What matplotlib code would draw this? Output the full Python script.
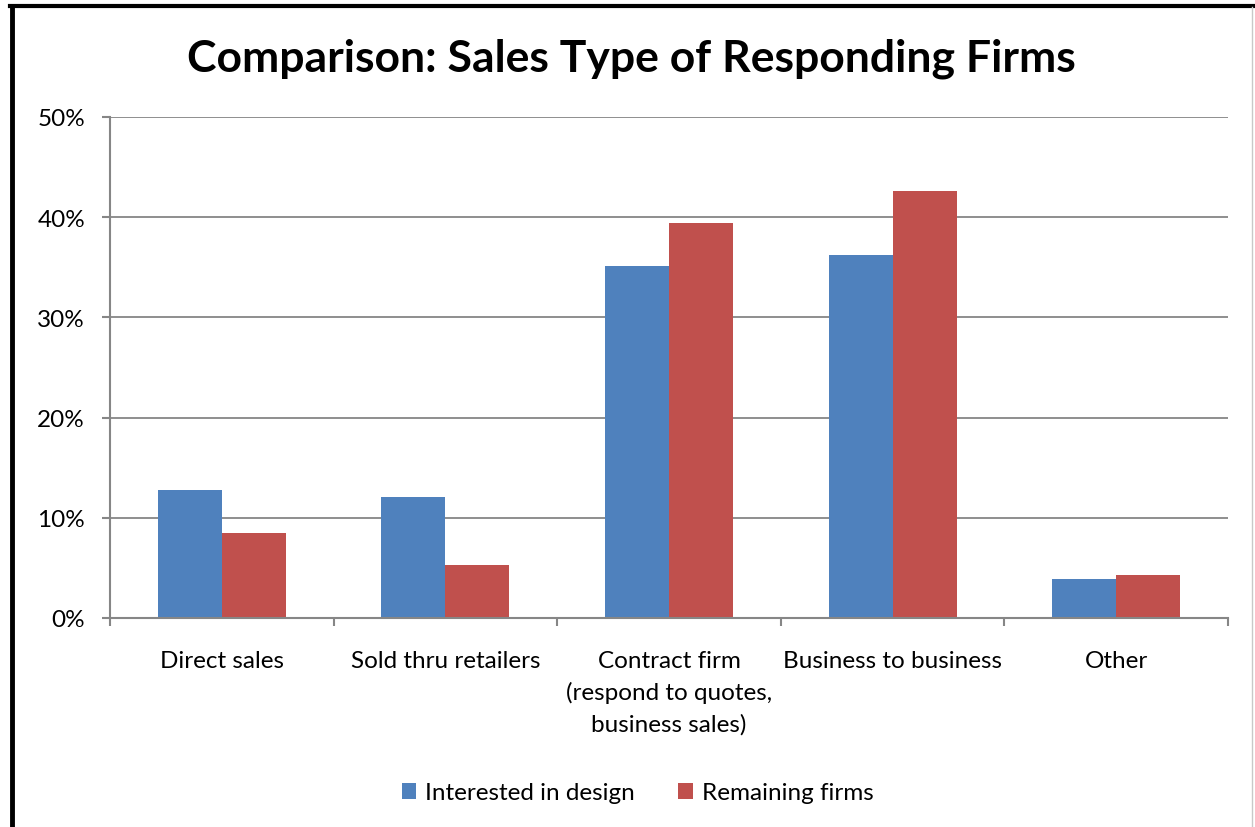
import numpy as np
import matplotlib.pyplot as plt
from matplotlib.lines import Line2D
from matplotlib.ticker import PercentFormatter

plt.rcParams['font.family'] = ['Lato', 'DejaVu Sans']

categories = ['Direct sales', 'Sold thru retailers',
              'Contract firm\n(respond to quotes,\nbusiness sales)',
              'Business to business', 'Other']
interested = [12.8, 12.1, 35.1, 36.2, 3.9]
remaining = [8.5, 5.3, 39.4, 42.6, 4.3]
series_names = ['Interested in design', 'Remaining firms']
yticks = [0, 10, 20, 30, 40, 50]

blue = '#4f81bd'
red = '#c0504d'
gray = '#868686'

fig = plt.figure(figsize=(12.55, 8.28), dpi=100)
ax = fig.add_axes([110/1255, 1-619/828, (1228-110)/1255, (619-118)/828])

x = np.arange(len(categories))
w = 64/223.6
ax.bar(x - w/2, interested, w, color=blue, label=series_names[0])
ax.bar(x + w/2, remaining, w, color=red, label=series_names[1])

ax.set_xlim(-0.5, len(categories) - 0.5)
ax.set_ylim(0, 50)
ax.set_yticks(yticks)
ax.yaxis.set_major_formatter(PercentFormatter(decimals=0))
ax.set_xticks(x)
ax.set_xticklabels(categories, fontsize=17.5, linespacing=1.55)
ax.set_xticks(np.arange(len(categories) + 1) - 0.5, minor=True)
ax.tick_params(axis='x', which='major', length=0, pad=23)
ax.tick_params(axis='x', which='minor', length=6, color=gray, width=1.5)
ax.tick_params(axis='y', length=6, color=gray, width=1.5, labelsize=17.5, pad=12)
ax.grid(axis='y', color=gray, linewidth=1.3)
ax.set_axisbelow(True)
for s in ['top', 'right']:
    ax.spines[s].set_visible(False)
for s in ['left', 'bottom']:
    ax.spines[s].set_color(gray)
    ax.spines[s].set_linewidth(1.5)

fig.text(0.5 + 4/1255, 1-59/828, 'Comparison: Sales Type of Responding Firms',
         ha='center', va='center', fontsize=32, fontweight='bold')

fig.legend(loc='center', bbox_to_anchor=(0.508, 1-794/828), ncol=2,
           frameon=False, fontsize=17.5, handlelength=0.6, handleheight=0.6,
           handletextpad=0.35, columnspacing=1.8)

# outer chart border: thick black left and top, thin gray right
fig.lines.append(Line2D([12/1255, 12/1255], [0, 1-7/828], transform=fig.transFigure,
                        color='black', linewidth=3.5))
fig.lines.append(Line2D([10/1255, 1], [1-7/828, 1-7/828], transform=fig.transFigure,
                        color='black', linewidth=3))
fig.lines.append(Line2D([1252/1255, 1252/1255], [0, 1-8/828], transform=fig.transFigure,
                        color='#c8c8c8', linewidth=1))

fig.savefig('out.png', dpi=100)
